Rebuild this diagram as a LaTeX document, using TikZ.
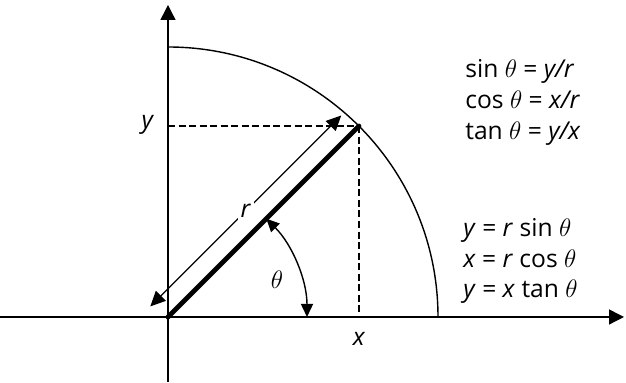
\documentclass[tikz,border=0pt]{standalone}
\usepackage{fontspec}
\setmainfont{Open Sans}
\usetikzlibrary{arrows.meta, calc}

\begin{document}
\begin{tikzpicture}[font=\fontsize{14}{17.5}\selectfont,
  ax/.style={line width=0.8pt, -{Triangle[length=0.3cm, width=0.3cm]}},
  thin/.style={line width=0.8pt},
  guide/.style={line width=0.7pt, dash pattern=on 4pt off 2pt},
  rline/.style={line width=2.8pt, line cap=round},
  dim/.style={line width=0.7pt, {Triangle[length=0.3cm, width=0.28cm]}-{Triangle[length=0.3cm, width=0.28cm]}},
  ang/.style={line width=0.8pt, {Triangle[length=0.26cm, width=0.24cm]}-{Triangle[length=0.26cm, width=0.24cm]}},
  eqs/.style={align=left, anchor=west, inner sep=0pt}]

\useasboundingbox (-3.36,-1.32) rectangle (9.16,6.34);

\coordinate (O) at (0,0);
\coordinate (P) at (45:5.4);
\coordinate (Py) at (O |- P);
\coordinate (Px) at (P |- O);

% axes and circle
\draw[ax] (-3.36,0) -- (9.12,0);
\draw[ax] (0,-1.3) -- (0,6.24);
\draw[thin] (0,5.4) arc[start angle=90, end angle=0, radius=5.4];

% projections
\draw[guide] (Py) -- (P);
\draw[guide] (P) -- (Px);
\draw[rline] (O) -- (P);

% length r
\coordinate (ra) at ($(O)+(135:0.4)+(225:0.1)$);
\coordinate (rb) at ($(P)+(135:0.4)+(225:0.1)$);
\draw[dim] (ra) -- node[fill=white, inner sep=1.5pt] (rl) {\textit{r}} (rb);

% angle
\draw[ang] (2.78,0) arc[start angle=0, end angle=45, radius=2.78];
\node (th) at (2.18,0.74) {$\theta$};

\node (ylab) at (-0.4,3.84) {\textit{y}};
\node (xlab) at (3.82,-0.44) {\textit{x}};

\node[eqs] (ratios) at (5.94,4.29) {sin $\theta$ = \textit{y/r}\\ cos $\theta$ = \textit{x/r}\\ tan $\theta$ = \textit{y/x}};
\node[eqs] (relations) at (5.9,1.12) {\textit{y} = \textit{r} sin $\theta$\\ \textit{x} = \textit{r} cos $\theta$\\ \textit{y} = \textit{x} tan $\theta$};
\end{tikzpicture}
\end{document}
